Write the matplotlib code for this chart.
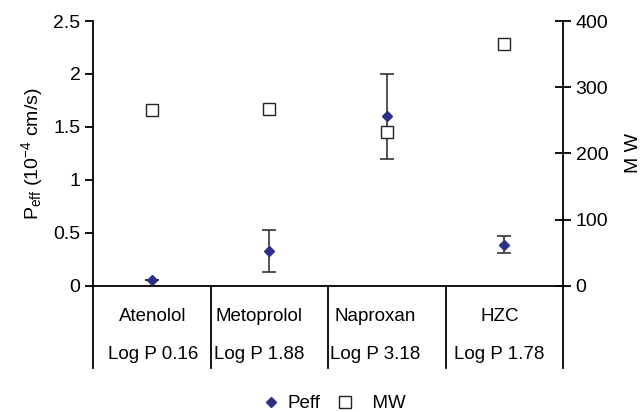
import matplotlib.pyplot as plt
import matplotlib.transforms as mtransforms
from matplotlib.lines import Line2D
import numpy as np

plt.rcParams['font.family'] = ['Liberation Sans', 'DejaVu Sans']
plt.rcParams['mathtext.fontset'] = 'custom'
plt.rcParams['mathtext.rm'] = 'Liberation Sans'
plt.rcParams['mathtext.it'] = 'Liberation Sans:italic'

# data
drugs = ['Atenolol', 'Metoprolol', 'Naproxan', 'HZC']
logp = ['Log P 0.16', 'Log P 1.88', 'Log P 3.18', 'Log P 1.78']
peff = [0.06, 0.33, 1.60, 0.39]
peff_err = [0.0, 0.20, 0.40, 0.08]
mw = [266, 267, 232, 366]

x = np.arange(1, len(drugs) + 1)
# the table labels sit a little left of the cell centres in the original
label_shift = [0.01, -0.09, -0.10, -0.04]

navy = '#2b2f86'

fig = plt.figure(figsize=(6.42, 4.12), dpi=100)
ax = fig.add_axes([0.145, 0.306, 0.732, 0.643])
ax2 = ax.twinx()

ax.errorbar(x, peff, yerr=peff_err, fmt='D', color=navy, ms=5,
            ecolor='#333333', elinewidth=1.2, capsize=5, capthick=1.2,
            zorder=3)
ax2.plot(x, mw, 's', ms=8, mfc='white', mec='#222222', mew=1.0,
         linestyle='none')

ax.set_xlim(0.5, len(drugs) + 0.5)
ax.set_ylim(0, 2.5)
ax.set_yticks([0, 0.5, 1, 1.5, 2, 2.5])
ax.set_yticklabels(['0', '0.5', '1', '1.5', '2', '2.5'])
ax2.set_ylim(0, 400)
ax2.set_yticks([0, 100, 200, 300, 400])

for a in (ax, ax2):
    a.spines['top'].set_visible(False)
    a.set_xticks([])
ax.spines['right'].set_visible(False)
ax2.spines['left'].set_visible(False)
ax2.spines['bottom'].set_visible(False)
for sp in ('left', 'bottom'):
    ax.spines[sp].set_linewidth(1.3)
ax2.spines['right'].set_linewidth(1.3)

ax.tick_params(axis='y', direction='out', length=6, width=1.3,
               labelsize=14, pad=3)
ax2.tick_params(axis='y', direction='inout', length=12, width=1.3,
                labelsize=14, pad=3)

ax.set_ylabel(r'P$_{\rm eff}$ (10$^{-4}$ cm/s)', fontsize=14, labelpad=6)
ax2.set_ylabel('M W', fontsize=14, labelpad=12)

# category table below the axis
trans = mtransforms.blended_transform_factory(ax.transData, ax.transAxes)
for sep in np.arange(0.5, len(drugs) + 1):
    ax.plot([sep, sep], [0, -0.31], color='black', lw=1.3,
            transform=trans, clip_on=False)
for xi, dx, name, lp in zip(x, label_shift, drugs, logp):
    ax.text(xi + dx, -0.115, name, transform=trans, ha='center',
            va='center', fontsize=13.5)
    ax.text(xi + dx, -0.26, lp, transform=trans, ha='center',
            va='center', fontsize=13.5)

handles = [
    Line2D([], [], marker='D', color=navy, ms=5, linestyle='none'),
    Line2D([], [], marker='s', ms=8, mfc='white', mec='#222222', mew=1.0,
           linestyle='none'),
]
fig.legend(handles, ['Peff', '  MW'], loc='center',
           bbox_to_anchor=(0.52, 0.02), ncol=2, frameon=False, fontsize=13.5,
           handlelength=1.0, handletextpad=0.4, columnspacing=0.8)

plt.savefig('out.png', dpi=100)
